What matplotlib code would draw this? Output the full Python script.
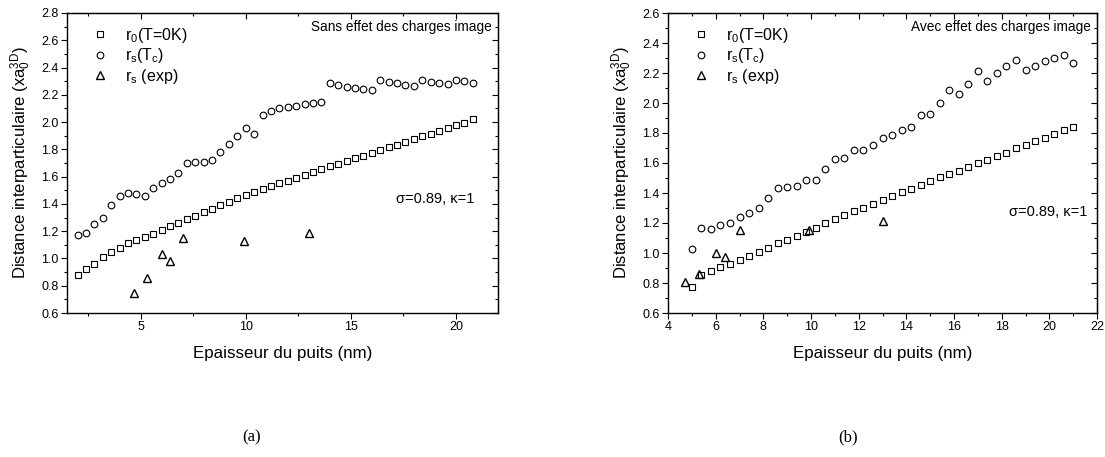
import numpy as np
import matplotlib
matplotlib.use("Agg")
import matplotlib.pyplot as plt
from matplotlib.ticker import MultipleLocator, FormatStrFormatter

plt.rcParams['font.family'] = ['Liberation Sans', 'DejaVu Sans']
plt.rcParams['mathtext.fontset'] = 'custom'
plt.rcParams['mathtext.rm'] = 'Liberation Sans'
plt.rcParams['mathtext.it'] = 'Liberation Sans'
plt.rcParams['mathtext.default'] = 'regular'

# (a) sans effet des charges image
xa = [2.0, 2.4, 2.8, 3.2, 3.6, 4.0, 4.4, 4.8, 5.2, 5.6, 6.0, 6.4, 6.8, 7.2, 7.6, 8.0,
      8.4, 8.8, 9.2, 9.6, 10.0, 10.4, 10.8, 11.2, 11.6, 12.0, 12.4, 12.8, 13.2, 13.6,
      14.0, 14.4, 14.8, 15.2, 15.6, 16.0, 16.4, 16.8, 17.2, 17.6, 18.0, 18.4, 18.8,
      19.2, 19.6, 20.0, 20.4, 20.8]
r0_a = [0.88, 0.92, 0.96, 1.01, 1.05, 1.08, 1.11, 1.135, 1.16, 1.18, 1.205, 1.235,
        1.26, 1.29, 1.315, 1.34, 1.36, 1.39, 1.415, 1.44, 1.465, 1.49, 1.51, 1.53,
        1.55, 1.57, 1.59, 1.615, 1.635, 1.655, 1.675, 1.695, 1.715, 1.735, 1.755,
        1.775, 1.795, 1.815, 1.835, 1.855, 1.875, 1.895, 1.915, 1.935, 1.955, 1.975,
        1.995, 2.02]
rs_a = [1.17, 1.19, 1.25, 1.30, 1.39, 1.46, 1.48, 1.47, 1.455, 1.52, 1.555, 1.58,
        1.625, 1.70, 1.71, 1.71, 1.72, 1.78, 1.84, 1.90, 1.96, 1.91, 2.05, 2.08,
        2.10, 2.11, 2.12, 2.13, 2.14, 2.15, 2.29, 2.27, 2.26, 2.25, 2.245, 2.235,
        2.31, 2.295, 2.29, 2.275, 2.265, 2.31, 2.295, 2.29, 2.28, 2.31, 2.30, 2.29]

# (b) avec effet des charges image
xb = [5.0, 5.4, 5.8, 6.2, 6.6, 7.0, 7.4, 7.8, 8.2, 8.6, 9.0, 9.4, 9.8, 10.2, 10.6,
      11.0, 11.4, 11.8, 12.2, 12.6, 13.0, 13.4, 13.8, 14.2, 14.6, 15.0, 15.4, 15.8,
      16.2, 16.6, 17.0, 17.4, 17.8, 18.2, 18.6, 19.0, 19.4, 19.8, 20.2, 20.6, 21.0]
r0_b = [0.775, 0.853, 0.88, 0.905, 0.93, 0.955, 0.98, 1.01, 1.035, 1.065, 1.09,
        1.115, 1.14, 1.17, 1.20, 1.225, 1.253, 1.28, 1.30, 1.33, 1.355, 1.38, 1.41,
        1.43, 1.455, 1.48, 1.505, 1.53, 1.55, 1.575, 1.60, 1.62, 1.65, 1.67, 1.70,
        1.72, 1.745, 1.77, 1.795, 1.82, 1.84]
rs_b = [1.03, 1.165, 1.16, 1.19, 1.20, 1.24, 1.27, 1.30, 1.365, 1.435, 1.44, 1.45,
        1.49, 1.49, 1.56, 1.625, 1.635, 1.685, 1.69, 1.72, 1.765, 1.79, 1.82, 1.84,
        1.92, 1.925, 2.00, 2.09, 2.06, 2.13, 2.215, 2.145, 2.20, 2.25, 2.29, 2.22,
        2.25, 2.28, 2.30, 2.32, 2.27]

# experimental points
x_exp = [4.7, 5.3, 6.0, 6.4, 7.0, 9.9, 13.0]
exp_a = [0.75, 0.86, 1.03, 0.98, 1.15, 1.13, 1.19]
exp_b = [0.81, 0.86, 1.0, 0.975, 1.155, 1.155, 1.215]

fig = plt.figure(figsize=(11.05, 4.57), dpi=100)
ax1 = fig.add_axes([67/1105, 1 - 313/457, 431/1105, 300/457])
ax2 = fig.add_axes([668/1105, 1 - 313/457, 429/1105, 300/457])


def draw(ax, x, r0, rs, exp, xlim, ylim, xmaj, xmin, note, sig_xy):
    ax.plot(x, r0, 's', mfc='none', mec='black', ms=4.2, mew=0.8, label=r'r$_0$(T=0K)')
    ax.plot(x, rs, 'o', mfc='none', mec='black', ms=4.8, mew=0.8, label=r'r$_s$(T$_c$)')
    ax.plot(x_exp, exp, '^', mfc='none', mec='black', ms=5.5, mew=1.0, label=r'r$_s$ (exp)')
    ax.set_xlim(*xlim)
    ax.set_ylim(*ylim)
    ax.xaxis.set_major_locator(MultipleLocator(xmaj))
    ax.xaxis.set_minor_locator(MultipleLocator(xmin))
    ax.yaxis.set_major_locator(MultipleLocator(0.2))
    ax.yaxis.set_minor_locator(MultipleLocator(0.1))
    ax.yaxis.set_major_formatter(FormatStrFormatter('%.1f'))
    ax.tick_params(which='major', direction='out', length=4, width=0.8, labelsize=9, pad=2)
    ax.tick_params(which='minor', direction='out', length=2.5, width=0.8)
    for s in ax.spines.values():
        s.set_linewidth(1.0)
    # mirrored ticks pointing inward on top/right
    top = ax.secondary_xaxis('top')
    top.xaxis.set_major_locator(MultipleLocator(xmaj))
    top.xaxis.set_minor_locator(MultipleLocator(xmin))
    top.tick_params(which='major', direction='in', length=4, width=0.8, labeltop=False)
    top.tick_params(which='minor', direction='in', length=2.5, width=0.8)
    right = ax.secondary_yaxis('right')
    right.yaxis.set_major_locator(MultipleLocator(0.2))
    right.yaxis.set_minor_locator(MultipleLocator(0.1))
    right.tick_params(which='major', direction='in', length=4, width=0.8, labelright=False)
    right.tick_params(which='minor', direction='in', length=2.5, width=0.8)

    ax.set_xlabel('Epaisseur du puits (nm)', fontsize=12.2, labelpad=9)
    ax.set_ylabel(r'Distance interparticulaire (xa$_0^{3D}$)', fontsize=12, labelpad=6)
    ax.text(0.985, 0.975, note, transform=ax.transAxes, ha='right', va='top', fontsize=9.8)
    ax.text(sig_xy[0], sig_xy[1], 'σ=0.89, κ=1', ha='right', va='center', fontsize=10.5)
    ax.legend(loc='upper left', bbox_to_anchor=(0.035, 0.99), frameon=False, fontsize=11.5,
              handlelength=1.0, handletextpad=1.1, labelspacing=0.1, borderaxespad=0.2)


draw(ax1, xa, r0_a, rs_a, exp_a, (1.5, 22), (0.6, 2.8), 5, 2.5,
     'Sans effet des charges image', (20.9, 1.436))
draw(ax2, xb, r0_b, rs_b, exp_b, (4, 22), (0.6, 2.6), 2, 1,
     'Avec effet des charges image', (21.6, 1.275))

fig.text(252/1105, 1 - 437/457, '(a)', ha='center', va='center', fontsize=12,
         family='Liberation Serif')
fig.text(848/1105, 1 - 437/457, '(b)', ha='center', va='center', fontsize=12,
         family='Liberation Serif')

fig.savefig('out.png', dpi=100)
